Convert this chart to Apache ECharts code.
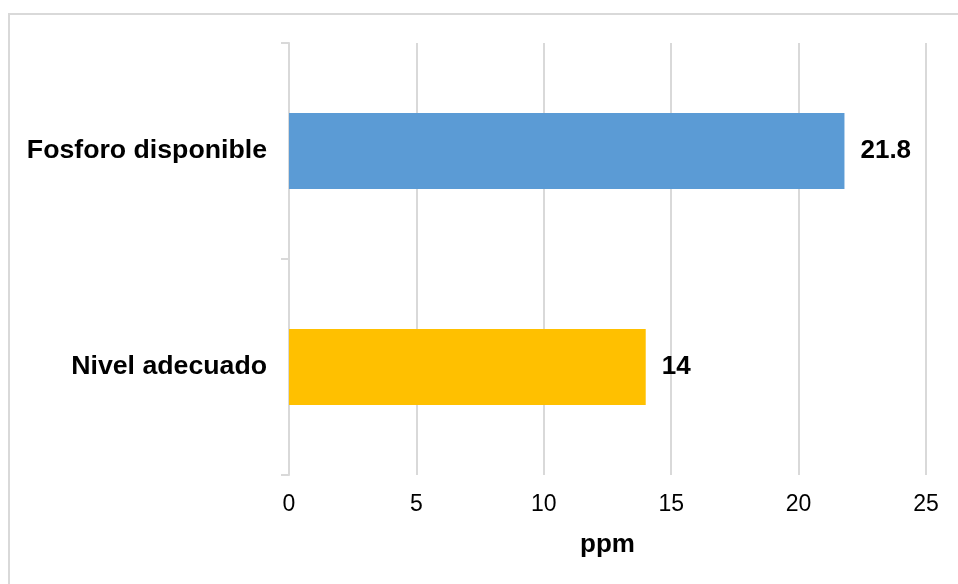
<!DOCTYPE html>
<html>
<head>
<meta charset="utf-8">
<script src="https://cdn.jsdelivr.net/npm/echarts@6/dist/echarts.min.js"></script>
<style>
  html, body { margin: 0; padding: 0; background: #ffffff; }
  #chart { width: 958px; height: 584px; }
</style>
</head>
<body>
<div id="chart"></div>
<script>
// Phosphorus availability compared with the adequate level (ppm)
const categories = ['Fosforo disponible', 'Nivel adecuado'];
const values = [21.8, 14];
const barColors = ['#5b9bd5', '#ffc000'];
const axisMin = 0;
const axisMax = 25;
const axisStep = 5;
const axisTitle = 'ppm';

const FONT = '"Liberation Sans", Arial, sans-serif';
const GRID_COLOR = '#d9d9d9';

const chart = echarts.init(document.getElementById('chart'), null, { renderer: 'canvas' });

chart.setOption({
  animation: false,
  backgroundColor: '#ffffff',
  graphic: [{
    type: 'rect',
    shape: { x: 9, y: 14, width: 1200, height: 1200 },
    style: { fill: 'none', stroke: GRID_COLOR, lineWidth: 2 },
    silent: true
  }],
  grid: { left: 289, right: 32, top: 43, bottom: 109, containLabel: false },
  xAxis: {
    type: 'value',
    min: axisMin,
    max: axisMax,
    interval: axisStep,
    name: axisTitle,
    nameLocation: 'middle',
    nameGap: 57,
    nameTextStyle: { color: '#000', fontSize: 26, fontWeight: 'bold', fontFamily: FONT },
    axisLine: { show: false },
    axisTick: { show: false },
    axisLabel: { color: '#000', fontSize: 23, fontFamily: FONT, margin: 18 },
    splitLine: { show: true, lineStyle: { color: GRID_COLOR, width: 2 } }
  },
  yAxis: {
    type: 'category',
    data: categories,
    inverse: true,
    axisLine: { show: true, lineStyle: { color: GRID_COLOR, width: 2 } },
    axisTick: { show: true, length: 8, lineStyle: { color: GRID_COLOR, width: 2 } },
    axisLabel: { color: '#000', fontSize: 26.7, fontWeight: 'bold', fontFamily: FONT, margin: 22 },
    splitLine: { show: false }
  },
  series: [{
    type: 'bar',
    data: values.map((v, i) => ({ value: v, itemStyle: { color: barColors[i] } })),
    barWidth: '35.2%',
    label: {
      show: true,
      position: 'right',
      distance: 16,
      color: '#000',
      fontSize: 26,
      fontWeight: 'bold',
      fontFamily: FONT
    }
  }]
});
</script>
</body>
</html>
